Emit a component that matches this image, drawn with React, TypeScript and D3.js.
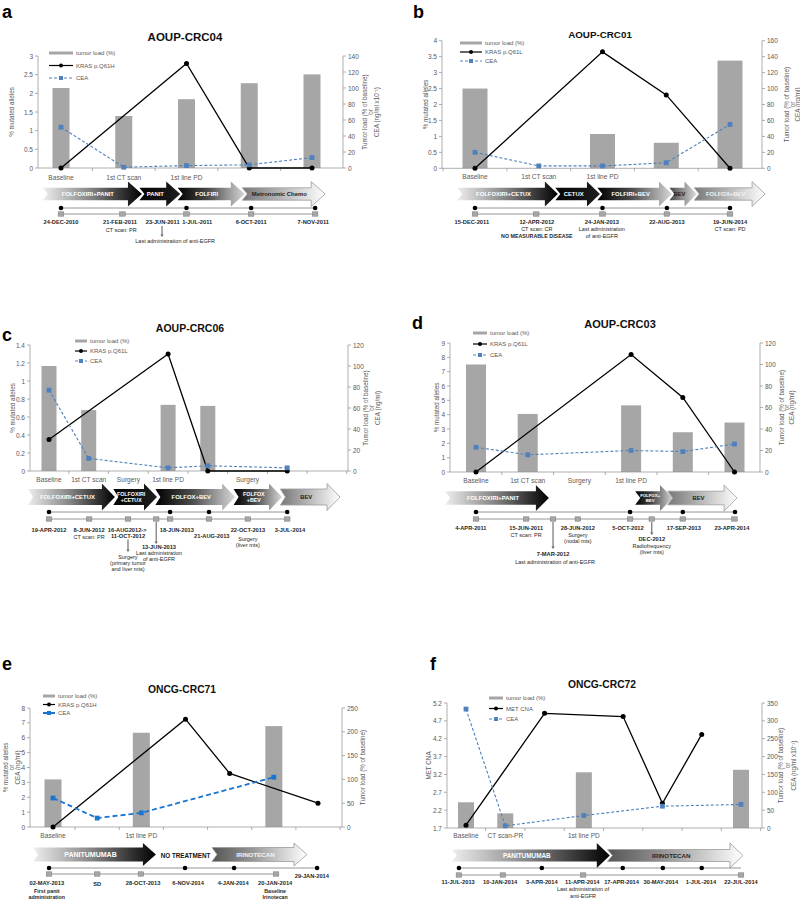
import React from 'react';
import * as d3 from 'd3';

type V = number | null;

const FONT = '"Liberation Sans", Arial, Helvetica, sans-serif';
const BAR_FILL = '#a6a6a6';
const AXIS_COL = '#8c8c8c';
const TXT = '#595959';
const CEA_COL = '#4f81bd';
const CEA_COL_E = '#1a75cf';

// a — AOUP-CRC04
const aCats = ['Baseline', '1st CT scan', '1st line PD', '', ''];
const aTumor: V[] = [100, 65, 86, 106, 117];
const aKras: V[] = [0, null, 2.8, 0, 0];
const aCea: V[] = [51, 1, 3, 4, 13];

// b — AOUP-CRC01
const bCats = ['Baseline', '1st CT scan', '1st line PD', '', ''];
const bTumor: V[] = [100, null, 43, 32, 135];
const bKras: V[] = [0, null, 3.65, 2.3, 0];
const bCea: V[] = [20, 3, 3, 7, 55];

// c — AOUP-CRC06
const cCats = ['Baseline', '1st CT scan', 'Surgery', '1st line PD', '', 'Surgery', '', ''];
const cTumor: V[] = [100, 58, null, 63, 62, null, null, null];
const cKras: V[] = [0.35, null, null, 1.3, 0, null, 0, null];
const cCea: V[] = [77, 12, null, 3, 5, null, 3, null];

// d — AOUP-CRC03
const dCats = ['Baseline', '1st CT scan', 'Surgery', '1st line PD', '', ''];
const dTumor: V[] = [100, 54, null, 62, 37, 46];
const dKras: V[] = [0, null, null, 8.2, 5.2, 0];
const dCea: V[] = [23, 16, null, 20, 19, 26];

// e — ONCG-CRC71 (CEA on the left axis)
const eCats = ['Baseline', '', '1st line PD', '', '', '', ''];
const eTumor: V[] = [100, null, 198, null, null, 212, null];
const eKras: V[] = [0, null, null, 7.25, 3.6, null, 1.6];
const eCea: V[] = [1.95, 0.6, 0.95, null, null, 3.35, null];

// f — ONCG-CRC72
const fCats = ['Baseline', 'CT scan-PR', '', '1st line PD', '', '', '', ''];
const fTumor: V[] = [72, 41, null, 156, null, null, null, 163];
const fMet: V[] = [1.78, null, 4.91, null, 4.82, 2.39, 4.32, null];
const fCea: V[] = [333, 6, null, 35, null, 61, null, 66];

interface Arrow { t: string; a: number; b: number; s: keyof typeof ARROWS; fs?: number; col?: string }
interface Lbl { t: string; p: number; y: number; b?: boolean; fs?: number; col?: string }
interface Ptr { p: number; y0: number; y1: number }

// therapy arrows, timeline markers and dates (positions in category units)
const aTherapy: Arrow[] = [
  { t: 'FOLFOXIRI+PANIT', a: -0.29, b: 1.29, s: 'ld' },
  { t: 'PANIT', a: 1.25, b: 1.9, s: 'dark' },
  { t: 'FOLFIRI', a: 1.86, b: 2.93, s: 'dl' },
  { t: 'Metronomic Chemo', a: 2.89, b: 4.21, s: 'out' },
];
const aDots = [0, 2, 3.03, 4.05];
const aSquares = [0, 0.98, 2, 3.03, 4.05];
const aLabels: Lbl[] = [
  { t: '24-DEC-2010', p: 0, y: 222, b: true },
  { t: '21-FEB-2011', p: 0.94, y: 222, b: true },
  { t: 'CT scan: PR', p: 0.96, y: 229.5 },
  { t: '23-JUN-2011', p: 1.62, y: 222, b: true },
  { t: '1-JUL-2011', p: 2.17, y: 222, b: true },
  { t: '6-OCT-2011', p: 3.03, y: 222, b: true },
  { t: '7-NOV-2011', p: 4.02, y: 222, b: true },
  { t: 'Last administration of anti-EGFR', p: 1.82, y: 241 },
];
const aPtr: Ptr[] = [{ p: 1.61, y0: 226, y1: 237 }];

const bTherapy: Arrow[] = [
  { t: 'FOLFOXIRI+CETUX', a: -0.28, b: 1.3, s: 'ld' },
  { t: 'CETUX', a: 1.26, b: 1.96, s: 'dark' },
  { t: 'FOLFIRI+BEV', a: 1.92, b: 3.09, s: 'dl' },
  { t: 'BEV', a: 3.05, b: 3.48, s: 'mid' },
  { t: 'FOLFOX+BEV', a: 3.44, b: 4.55, s: 'out', col: '#f4f4f4' },
];
const bDots = [0, 2, 3.01, 4];
const bSquares = [0, 0.96, 2, 3.01, 4];
const bLabels: Lbl[] = [
  { t: '15-DEC-2011', p: -0.05, y: 222, b: true },
  { t: '12-APR-2012', p: 0.97, y: 222, b: true },
  { t: '24-JAN-2013', p: 1.99, y: 222, b: true },
  { t: '22-AUG-2013', p: 3.01, y: 222, b: true },
  { t: '19-JUN-2014', p: 4, y: 222, b: true },
  { t: 'CT scan: CR', p: 0.97, y: 229 },
  { t: 'NO MEASURABLE DISEASE', p: 0.97, y: 236, b: true, fs: 5.3 },
  { t: 'Last administration', p: 1.99, y: 229 },
  { t: 'of anti-EGFR', p: 1.99, y: 236 },
  { t: 'CT scan: PD', p: 4, y: 229 },
];

const cTherapy: Arrow[] = [
  { t: 'FOLFOXIRI+CETUX', a: -0.53, b: 1.66, s: 'ld' },
  { t: 'FOLFOXIRI\n+CETUX', a: 1.62, b: 2.72, s: 'dark', fs: 5.3 },
  { t: 'FOLFOX+BEV', a: 2.68, b: 4.69, s: 'dl' },
  { t: 'FOLFOX\n+BEV', a: 4.65, b: 5.87, s: 'dl', fs: 5.3 },
  { t: 'BEV', a: 5.83, b: 7.33, s: 'out' },
];
const cDots = [0, 3.05, 4.03, 6];
const cSquares = [0, 1.01, 1.99, 2.7, 3.05, 4.03, 5.01, 6];
const cLabels: Lbl[] = [
  { t: '19-APR-2012', p: 0, y: 530, b: true },
  { t: '8-JUN-2012', p: 1.01, y: 530, b: true },
  { t: '16-AUG2012->', p: 1.97, y: 530, b: true },
  { t: '18-JUN-2013', p: 3.22, y: 530, b: true },
  { t: '22-OCT-2013', p: 5.01, y: 530, b: true },
  { t: '3-JUL-2014', p: 6.07, y: 530, b: true },
  { t: '21-AUG-2013', p: 4.1, y: 535.5, b: true },
  { t: '11-OCT-2012', p: 1.99, y: 536, b: true },
  { t: 'CT scan: PR', p: 1.01, y: 536.5 },
  { t: 'Surgery', p: 5.01, y: 538.5 },
  { t: '(liver mts)', p: 5.01, y: 544.5 },
  { t: 'Surgery', p: 1.99, y: 557 },
  { t: '(primary tumor', p: 1.99, y: 563 },
  { t: 'and liver mts)', p: 1.99, y: 569 },
  { t: '13-JUN-2013', p: 2.77, y: 547, b: true },
  { t: 'Last administration', p: 2.77, y: 553 },
  { t: 'of anti-EGFR', p: 2.77, y: 559 },
];
const cPtr: Ptr[] = [{ p: 1.99, y0: 539.5, y1: 552 }, { p: 2.7, y0: 522, y1: 544 }];

const dTherapy: Arrow[] = [
  { t: 'FOLFOXIRI+PANIT', a: -0.6, b: 1.41, s: 'ld' },
  { t: 'FOLFOX+\nBEV', a: 3.08, b: 3.81, s: 'dl', fs: 4.3 },
  { t: 'BEV', a: 3.71, b: 5.05, s: 'out' },
];
const dDots = [0, 2.98, 4, 5.01];
const dSquares = [0, 0.97, 1.49, 1.97, 2.98, 3.4, 4, 5];
const dLabels: Lbl[] = [
  { t: '4-APR-2011', p: -0.1, y: 528, b: true },
  { t: '15-JUN-2011', p: 0.97, y: 528, b: true },
  { t: '28-JUN-2012', p: 1.97, y: 528, b: true },
  { t: '5-OCT-2012', p: 2.94, y: 528, b: true },
  { t: '17-SEP-2013', p: 4.02, y: 528, b: true },
  { t: '23-APR-2014', p: 4.95, y: 528, b: true },
  { t: 'CT scan: PR', p: 0.97, y: 534.5 },
  { t: 'Surgery', p: 1.97, y: 534.5 },
  { t: '(nodal mts)', p: 1.97, y: 540.5 },
  { t: '7-MAR-2012', p: 1.49, y: 554, b: true },
  { t: 'Last administration of anti-EGFR', p: 1.53, y: 562 },
  { t: 'DEC-2012', p: 3.4, y: 539, b: true },
  { t: 'Radiofrequency', p: 3.4, y: 545.5 },
  { t: '(liver mts)', p: 3.4, y: 552 },
];
const dPtr: Ptr[] = [{ p: 1.49, y0: 522, y1: 549 }, { p: 3.4, y0: 522, y1: 535 }];

const eTherapy: Arrow[] = [
  { t: 'PANITUMUMAB', a: -0.45, b: 2.33, s: 'ld', fs: 7 },
  { t: 'IRINOTECAN', a: 3.6, b: 5.75, s: 'out2', fs: 6.2, col: '#f4f4f4' },
];
const eDots = [-0.09, 2.99, 4.1, 5.98];
const eSquares = [-0.09, 1.0, 1.99, 5.05];
const eLabels: Lbl[] = [
  { t: 'NO TREATMENT', p: 3.0, y: 855, b: true, fs: 6.3, col: '#111' },
  { t: '02-MAY-2013', p: -0.14, y: 883, b: true },
  { t: 'SD', p: 1.0, y: 884, b: true },
  { t: '28-OCT-2013', p: 2.04, y: 883, b: true },
  { t: '6-NOV-2014', p: 3.06, y: 883, b: true },
  { t: '4-JAN-2014', p: 4.08, y: 883, b: true },
  { t: '20-JAN-2014', p: 5.03, y: 883, b: true },
  { t: '29-JAN-2014', p: 5.86, y: 876, b: true },
  { t: 'First panit', p: -0.14, y: 890.5, b: true, fs: 5.3 },
  { t: 'administration', p: -0.14, y: 897, b: true, fs: 5.3 },
  { t: 'Baseline', p: 5.03, y: 890.5, b: true, fs: 5.3 },
  { t: 'Irinotecan', p: 5.03, y: 897, b: true, fs: 5.3 },
];

const fTherapy: Arrow[] = [
  { t: 'PANITUMUMAB', a: -0.36, b: 3.66, s: 'ld', fs: 6.4 },
  { t: 'IRINOTECAN', a: 3.6, b: 7.05, s: 'out2', fs: 6.2, col: '#2a2a2a' },
];
const fDots = [-0.18, 1.93, 3.99, 5.01, 6.0];
const fSquares = [-0.18, 0.94, 2.98, 7.0];
const fLabels: Lbl[] = [
  { t: '11-JUL-2013', p: -0.2, y: 882, b: true },
  { t: '10-JAN-2014', p: 0.87, y: 882, b: true },
  { t: '3-APR-2014', p: 1.93, y: 882, b: true },
  { t: '11-APR-2014', p: 2.96, y: 882, b: true },
  { t: '17-APR-2014', p: 3.96, y: 882, b: true },
  { t: '30-MAY-2014', p: 4.96, y: 882, b: true },
  { t: '1-JUL-2014', p: 5.98, y: 882, b: true },
  { t: '22-JUL-2014', p: 7.0, y: 882, b: true },
  { t: 'Last administration of', p: 2.98, y: 889 },
  { t: 'anti-EGFR', p: 2.98, y: 896 },
];

const ARROWS = {
  ld: { stops: [[0, '#eeeeee'], [0.5, '#808080'], [1, '#000000']], stroke: 'none', col: '#ffffff' },
  dark: { stops: [[0, '#030303'], [1, '#1e1e1e']], stroke: 'none', col: '#ffffff' },
  dl: { stops: [[0, '#000000'], [0.45, '#4a4a4a'], [1, '#d8d8d8']], stroke: 'none', col: '#ffffff' },
  mid: { stops: [[0, '#474747'], [1, '#dedede']], stroke: 'none', col: '#222222' },
  out: { stops: [[0, '#777777'], [1, '#ffffff']], stroke: '#9c9c9c', col: '#222222' },
  out2: { stops: [[0, '#555555'], [0.35, '#8a8a8a'], [1, '#ffffff']], stroke: '#9c9c9c', col: '#222222' },
};

interface Cfg {
  id: string; letter: string; letterX: number; letterY: number;
  title: string; titleX: number; titleY: number; titleFs: number;
  cats: string[]; tumor: V[]; mut: V[]; cea: V[]; mutName: string; ceaLeft?: boolean; ceaThick?: boolean;
  left: [number, number]; leftStep: number; right: [number, number]; rightStep: number;
  axisL: number; axisR: number; yT: number; yB: number; c0: number; c1: number; barW: number;
  leftTitle: { t: string; x: number }[]; rightTitle: { t: string; x: number }[];
  legX: number; legY: number; legDy: number; legW: number; catY: number;
  arrowCy: number; bodyH: number; headH: number; headL: number;
  therapy: Arrow[]; dotY: number; sqY: number; dots: number[]; squares: number[];
  dotLine: [number, number]; sqLine: [number, number]; labels: Lbl[]; ptrs: Ptr[];
}

const rt3 = ['Tumor load (% of baseline)', 'or'];

const panels: Cfg[] = [
  {
    id: 'a', letter: 'a', letterX: 2, letterY: 18, title: 'AOUP-CRC04', titleX: 185, titleY: 41, titleFs: 11.5,
    cats: aCats, tumor: aTumor, mut: aKras, cea: aCea, mutName: 'KRAS p.Q61H',
    left: [0, 3], leftStep: 0.5, right: [0, 140], rightStep: 20,
    axisL: 38, axisR: 343, yT: 56, yB: 168, c0: 61, c1: 312, barW: 17,
    leftTitle: [{ t: '% mutated alleles', x: 11 }],
    rightTitle: [{ t: rt3[0], x: 364 }, { t: rt3[1], x: 370 }, { t: 'CEA (ng/ml x10⁻¹)', x: 376 }],
    legX: 49, legY: 53, legDy: 12.5, legW: 24, catY: 177,
    arrowCy: 194, bodyH: 6.2, headH: 12.5, headL: 14,
    therapy: aTherapy, dotY: 208, sqY: 214, dots: aDots, squares: aSquares,
    dotLine: [0, 4.05], sqLine: [0, 4.05], labels: aLabels, ptrs: aPtr,
  },
  {
    id: 'b', letter: 'b', letterX: 413, letterY: 18, title: 'AOUP-CRC01', titleX: 600, titleY: 38, titleFs: 9.8,
    cats: bCats, tumor: bTumor, mut: bKras, cea: bCea, mutName: 'KRAS p.Q61L',
    left: [0, 4], leftStep: 0.5, right: [0, 160], rightStep: 20,
    axisL: 442, axisR: 762, yT: 40.7, yB: 168.3, c0: 475, c1: 730, barW: 25,
    leftTitle: [{ t: '% mutated alleles', x: 425 }],
    rightTitle: [{ t: rt3[0], x: 786 }, { t: rt3[1], x: 792 }, { t: 'CEA (ng/ml)', x: 797 }],
    legX: 460, legY: 43, legDy: 9, legW: 22, catY: 176,
    arrowCy: 194, bodyH: 6.2, headH: 12.5, headL: 13,
    therapy: bTherapy, dotY: 208, sqY: 214, dots: bDots, squares: bSquares,
    dotLine: [0, 4], sqLine: [0, 4], labels: bLabels, ptrs: [],
  },
  {
    id: 'c', letter: 'c', letterX: 2, letterY: 341, title: 'AOUP-CRC06', titleX: 190, titleY: 332, titleFs: 10.5,
    cats: cCats, tumor: cTumor, mut: cKras, cea: cCea, mutName: 'KRAS p.Q61L',
    left: [0, 1.4], leftStep: 0.2, right: [0, 120], rightStep: 20,
    axisL: 30, axisR: 348, yT: 345, yB: 471, c0: 49, c1: 326.9, barW: 15,
    leftTitle: [{ t: '% mutated alleles', x: 12 }],
    rightTitle: [{ t: rt3[0], x: 365 }, { t: rt3[1], x: 371 }, { t: 'CEA (ng/ml)', x: 377 }],
    legX: 75, legY: 341, legDy: 10, legW: 12, catY: 479,
    arrowCy: 497, bodyH: 8, headH: 13.5, headL: 13,
    therapy: cTherapy, dotY: 512, sqY: 519, dots: cDots, squares: cSquares,
    dotLine: [0, 6], sqLine: [0, 6], labels: cLabels, ptrs: cPtr,
  },
  {
    id: 'd', letter: 'd', letterX: 412, letterY: 329, title: 'AOUP-CRC03', titleX: 620, titleY: 328, titleFs: 11,
    cats: dCats, tumor: dTumor, mut: dKras, cea: dCea, mutName: 'KRAS p.Q61L',
    left: [0, 9], leftStep: 1, right: [0, 120], rightStep: 20,
    axisL: 450, axisR: 760, yT: 343, yB: 472, c0: 476, c1: 734.5, barW: 20,
    leftTitle: [{ t: '% mutated alleles', x: 436 }],
    rightTitle: [{ t: rt3[0], x: 781 }, { t: rt3[1], x: 786 }, { t: 'CEA (ng/ml)', x: 791 }],
    legX: 473, legY: 333, legDy: 11, legW: 14, catY: 480,
    arrowCy: 498, bodyH: 6.8, headH: 13, headL: 13,
    therapy: dTherapy, dotY: 512, sqY: 519, dots: dDots, squares: dSquares,
    dotLine: [0, 5.01], sqLine: [0, 5.01], labels: dLabels, ptrs: dPtr,
  },
  {
    id: 'e', letter: 'e', letterX: 2, letterY: 670, title: 'ONCG-CRC71', titleX: 182, titleY: 693, titleFs: 10.3,
    cats: eCats, tumor: eTumor, mut: eKras, cea: eCea, mutName: 'KRAS p.Q61H', ceaLeft: true, ceaThick: true,
    left: [0, 8], leftStep: 1, right: [0, 250], rightStep: 50,
    axisL: 30, axisR: 342, yT: 708, yB: 827, c0: 53, c1: 318, barW: 17,
    leftTitle: [{ t: '% mutated alleles', x: 5 }, { t: 'or', x: 11 }, { t: 'CEA (ng/ml)', x: 17 }],
    rightTitle: [{ t: rt3[0], x: 362 }],
    legX: 43, legY: 696, legDy: 8.5, legW: 12, catY: 835,
    arrowCy: 854.5, bodyH: 7, headH: 11.5, headL: 13,
    therapy: eTherapy, dotY: 868, sqY: 874, dots: eDots, squares: eSquares,
    dotLine: [-0.09, 5.98], sqLine: [-0.09, 5.05], labels: eLabels, ptrs: [],
  },
  {
    id: 'f', letter: 'f', letterX: 430, letterY: 670, title: 'ONCG-CRC72', titleX: 602, titleY: 688, titleFs: 10.3,
    cats: fCats, tumor: fTumor, mut: fMet, cea: fCea, mutName: 'MET CNA',
    left: [1.7, 5.2], leftStep: 0.5, right: [0, 350], rightStep: 50,
    axisL: 447, axisR: 762, yT: 703, yB: 828, c0: 466, c1: 741, barW: 16,
    leftTitle: [{ t: 'MET CNA', x: 428 }],
    rightTitle: [{ t: rt3[0], x: 780 }, { t: rt3[1], x: 787 }, { t: 'CEA (ng/ml x10⁻¹)', x: 793 }],
    legX: 489, legY: 698, legDy: 10.5, legW: 14, catY: 835,
    arrowCy: 855.5, bodyH: 6, headH: 12.5, headL: 13,
    therapy: fTherapy, dotY: 868, sqY: 875, dots: fDots, squares: fSquares,
    dotLine: [-0.18, 7.0], sqLine: [-0.18, 7.0], labels: fLabels, ptrs: [],
  },
];

const fmt = (v: number) => String(Math.round(v * 10) / 10);

const toPts = (arr: V[]) =>
  arr.map((v, i) => (v == null ? null : ([i, v] as [number, number]))).filter((d): d is [number, number] => d !== null);

const Panel: React.FC<{ p: Cfg }> = ({ p }) => {
  const n = p.cats.length;
  const x = d3.scaleLinear().domain([0, n - 1]).range([p.c0, p.c1]);
  const yL = d3.scaleLinear().domain(p.left).range([p.yB, p.yT]);
  const yR = d3.scaleLinear().domain(p.right).range([p.yB, p.yT]);
  const yCea = p.ceaLeft ? yL : yR;
  const lt = d3.range(p.left[0], p.left[1] + 1e-9, p.leftStep);
  const rt = d3.range(p.right[0], p.right[1] + 1e-9, p.rightStep);
  const midY = (p.yT + p.yB) / 2;
  const mutPts = toPts(p.mut);
  const ceaPts = toPts(p.cea);
  const lineMut = d3.line<[number, number]>().x(d => x(d[0])).y(d => yL(d[1]));
  const lineCea = d3.line<[number, number]>().x(d => x(d[0])).y(d => yCea(d[1]));
  const ceaCol = p.ceaThick ? CEA_COL_E : CEA_COL;
  const ceaW = p.ceaThick ? 1.8 : 1.1;
  const ceaDash = p.ceaThick ? '5,3' : '3,2';
  const catTicks = d3.range(0, n + 1).map(i => x(i - 0.5)).filter(v => v > p.axisL + 1 && v < p.axisR - 1);
  const nd = 5;

  return (
    <g fontFamily={FONT}>
      <text x={p.letterX} y={p.letterY} fontSize={18} fontWeight="bold" fill="#000">{p.letter}</text>
      <text x={p.titleX} y={p.titleY} fontSize={p.titleFs} fontWeight="bold" textAnchor="middle" fill="#111">{p.title}</text>

      {/* bars */}
      {p.tumor.map((v, i) => (v == null || v <= 0 ? null : (
        <rect key={`b${i}`} x={x(i) - p.barW / 2} y={yR(v)} width={p.barW} height={p.yB - yR(v)} fill={BAR_FILL} />
      )))}

      {/* axes */}
      <line x1={p.axisL} x2={p.axisL} y1={p.yT} y2={p.yB} stroke={AXIS_COL} strokeWidth={0.7} />
      <line x1={p.axisR} x2={p.axisR} y1={p.yT} y2={p.yB} stroke={AXIS_COL} strokeWidth={0.7} />
      <line x1={p.axisL} x2={p.axisR} y1={p.yB} y2={p.yB} stroke={AXIS_COL} strokeWidth={0.7} />
      {catTicks.map((cx, i) => (
        <line key={`ct${i}`} x1={cx} x2={cx} y1={p.yB} y2={p.yB + 3} stroke={AXIS_COL} strokeWidth={0.7} />
      ))}
      {lt.map(v => (
        <g key={`l${v}`}>
          <line x1={p.axisL - 3} x2={p.axisL} y1={yL(v)} y2={yL(v)} stroke={AXIS_COL} strokeWidth={0.7} />
          <text x={p.axisL - 5} y={yL(v)} fontSize={6.5} fill={TXT} textAnchor="end" dominantBaseline="central">{fmt(v)}</text>
        </g>
      ))}
      {rt.map(v => (
        <g key={`r${v}`}>
          <line x1={p.axisR} x2={p.axisR + 3} y1={yR(v)} y2={yR(v)} stroke={AXIS_COL} strokeWidth={0.7} />
          <text x={p.axisR + 5} y={yR(v)} fontSize={6.5} fill={TXT} dominantBaseline="central">{fmt(v)}</text>
        </g>
      ))}
      {p.leftTitle.map((t, i) => (
        <text key={`lt${i}`} transform={`translate(${t.x},${midY}) rotate(-90)`} fontSize={6.3} fill={TXT}
          textAnchor="middle" dominantBaseline="central">{t.t}</text>
      ))}
      {p.rightTitle.map((t, i) => (
        <text key={`rt${i}`} transform={`translate(${t.x},${midY}) rotate(-90)`} fontSize={6.3} fill={TXT}
          textAnchor="middle" dominantBaseline="central">{t.t}</text>
      ))}
      {p.cats.map((c, i) => (c ? (
        <text key={`c${i}`} x={x(i)} y={p.catY} fontSize={6.6} fill={TXT} textAnchor="middle" dominantBaseline="central">{c}</text>
      ) : null))}

      {/* lines */}
      <path d={lineMut(mutPts) || ''} fill="none" stroke="#000" strokeWidth={1.3} />
      {mutPts.map(d => <circle key={`m${d[0]}`} cx={x(d[0])} cy={yL(d[1])} r={2.5} fill="#000" />)}
      <path d={lineCea(ceaPts) || ''} fill="none" stroke={ceaCol} strokeWidth={ceaW} strokeDasharray={ceaDash} />
      {ceaPts.map(d => (
        <rect key={`e${d[0]}`} x={x(d[0]) - 2.4} y={yCea(d[1]) - 2.4} width={4.8} height={4.8} fill={ceaCol} />
      ))}

      {/* legend */}
      <g fontSize={6} fill={TXT}>
        <line x1={p.legX} x2={p.legX + p.legW} y1={p.legY} y2={p.legY} stroke={BAR_FILL} strokeWidth={3} />
        <text x={p.legX + p.legW + 3} y={p.legY} dominantBaseline="central">tumor load (%)</text>
        <line x1={p.legX} x2={p.legX + p.legW} y1={p.legY + p.legDy} y2={p.legY + p.legDy} stroke="#000" strokeWidth={1.2} />
        <circle cx={p.legX + p.legW / 2} cy={p.legY + p.legDy} r={2} fill="#000" />
        <text x={p.legX + p.legW + 3} y={p.legY + p.legDy} dominantBaseline="central">{p.mutName}</text>
        <line x1={p.legX} x2={p.legX + p.legW} y1={p.legY + 2 * p.legDy} y2={p.legY + 2 * p.legDy}
          stroke={ceaCol} strokeWidth={ceaW} strokeDasharray={ceaDash} />
        <rect x={p.legX + p.legW / 2 - 2} y={p.legY + 2 * p.legDy - 2} width={4} height={4} fill={ceaCol} />
        <text x={p.legX + p.legW + 3} y={p.legY + 2 * p.legDy} dominantBaseline="central">CEA</text>
      </g>

      {/* therapy arrows */}
      <defs>
        {p.therapy.map((a, i) => (
          <linearGradient key={`g${i}`} id={`g-${p.id}-${i}`} x1="0" x2="1" y1="0" y2="0">
            {ARROWS[a.s].stops.map((s, k) => <stop key={k} offset={s[0] as number} stopColor={s[1] as string} />)}
          </linearGradient>
        ))}
      </defs>
      {p.therapy.map((a, i) => {
        const x0 = x(a.a);
        const x1 = x(a.b);
        const cy = p.arrowCy;
        const hb = x1 - Math.min(p.headL, (x1 - x0) * 0.45);
        const d = `M${x0},${cy - p.bodyH}L${hb},${cy - p.bodyH}L${hb},${cy - p.headH}L${x1},${cy}` +
          `L${hb},${cy + p.headH}L${hb},${cy + p.bodyH}L${x0},${cy + p.bodyH}L${x0 + nd},${cy}Z`;
        const st = ARROWS[a.s];
        const fs = a.fs ?? 5.9;
        const lines = a.t.split('\n');
        const tx = (x0 + nd + hb) / 2;
        return (
          <g key={`a${i}`}>
            <path d={d} fill={`url(#g-${p.id}-${i})`} stroke={st.stroke} strokeWidth={0.8} />
            {lines.map((ln, k) => (
              <text key={k} x={tx} y={cy + (k - (lines.length - 1) / 2) * fs * 1.1} fontSize={fs} fontWeight="bold"
                fill={a.col ?? st.col} textAnchor="middle" dominantBaseline="central">{ln}</text>
            ))}
          </g>
        );
      })}

      {/* timeline */}
      <line x1={x(p.dotLine[0])} x2={x(p.dotLine[1])} y1={p.dotY} y2={p.dotY} stroke="#8a8a8a" strokeWidth={0.9} />
      <line x1={x(p.sqLine[0])} x2={x(p.sqLine[1])} y1={p.sqY} y2={p.sqY} stroke="#8a8a8a" strokeWidth={0.9} />
      {p.dots.map((d, i) => <circle key={`d${i}`} cx={x(d)} cy={p.dotY} r={2.3} fill="#000" />)}
      {p.squares.map((d, i) => (
        <rect key={`s${i}`} x={x(d) - 2.8} y={p.sqY - 2.2} width={5.6} height={4.4} fill="#a6a6a6" stroke="#7a7a7a" strokeWidth={0.5} />
      ))}
      {p.ptrs.map((q, i) => (
        <g key={`p${i}`}>
          <line x1={x(q.p)} x2={x(q.p)} y1={q.y0} y2={q.y1 - 2} stroke="#666" strokeWidth={1.1} />
          <path d={`M${x(q.p) - 1.6},${q.y1 - 2.5}L${x(q.p) + 1.6},${q.y1 - 2.5}L${x(q.p)},${q.y1}Z`} fill="#666" />
        </g>
      ))}
      {p.labels.map((l, i) => (
        <text key={`t${i}`} x={x(l.p)} y={l.y} fontSize={l.fs ?? (l.b ? 5.7 : 5.5)} fontWeight={l.b ? 'bold' : 'normal'}
          fill={l.col ?? '#262626'} textAnchor="middle" dominantBaseline="central">{l.t}</text>
      ))}
    </g>
  );
};

const App: React.FC = () => (
  <div style={{ position: 'absolute', left: 0, top: 0 }}>
    <svg width={800} height={900} viewBox="0 0 800 900" style={{ display: 'block', background: '#fff' }}>
      <rect width={800} height={900} fill="#fff" />
      {panels.map(p => <Panel key={p.id} p={p} />)}
    </svg>
  </div>
);

export default App;
